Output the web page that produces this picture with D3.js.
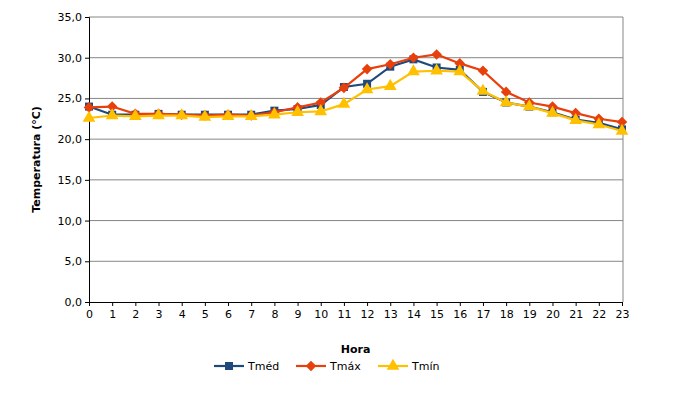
<!DOCTYPE html>
<html><head><meta charset="utf-8">
<script src="https://cdn.jsdelivr.net/npm/d3@7"></script>
<style>body{margin:0;background:#fff}text{font-family:"DejaVu Sans",Verdana,sans-serif}</style>
</head><body>
<script>
const data = {
  "Tméd": [24.0,23.0,23.0,23.1,23.0,23.0,23.0,23.0,23.5,23.7,24.2,26.4,26.8,28.9,29.8,28.8,28.5,25.8,24.5,24.0,23.3,22.4,22.0,21.2],
  "Tmáx": [23.9,24.0,23.1,23.1,23.0,22.9,23.0,22.9,23.3,23.9,24.5,26.3,28.6,29.2,30.0,30.4,29.3,28.4,25.8,24.5,24.0,23.2,22.5,22.1],
  "Tmín": [22.6,22.9,22.8,22.9,22.9,22.7,22.8,22.8,23.0,23.3,23.4,24.3,26.1,26.5,28.3,28.4,28.3,25.9,24.5,24.0,23.2,22.3,21.8,21.0]
};
const series = [
  {name:"Tméd", color:"#1f497d", shape:d3.symbolSquare, size:64, rot:0},
  {name:"Tmáx", color:"#e8400c", shape:d3.symbolSquare, size:56, rot:45},
  {name:"Tmín", color:"#ffc000", shape:d3.symbolTriangle, size:70, rot:0}
];
const L=89, R=623, T=17, B=302;
const svg = d3.select('body').append('svg').attr('width',689).attr('height',403);
const x = d3.scaleLinear().domain([0,23]).range([L,622]);
const y = d3.scaleLinear().domain([0,35]).range([B,T]);

svg.append('g').selectAll('line').data(d3.range(5,36,5)).join('line')
  .attr('x1',L).attr('x2',R).attr('y1',d=>y(d)).attr('y2',d=>y(d))
  .attr('stroke','#868686');
svg.append('line').attr('x1',R).attr('x2',R).attr('y1',T).attr('y2',B).attr('stroke','#868686');

const ya = svg.append('g').attr('transform',`translate(${L},0)`)
  .call(d3.axisLeft(y).tickValues(d3.range(0,36,5)).tickSize(4).tickFormat(d=>d3.format('.1f')(d).replace('.',',')));
const xa = svg.append('g').attr('transform',`translate(0,${B})`)
  .call(d3.axisBottom(x).tickValues(d3.range(0,24)).tickSize(4).tickFormat(d=>d));
[ya,xa].forEach(a=>{a.select('.domain').attr('stroke','#000');a.selectAll('line').attr('stroke','#000');a.selectAll('text').attr('font-size',11).attr('fill','#000').style('font-family','DejaVu Sans');});
ya.selectAll('text').attr('x',-7);
xa.selectAll('text').attr('y',8);

svg.append('text').attr('x',x(11.5)).attr('y',353).attr('text-anchor','middle')
  .attr('font-size',11).attr('font-weight','bold').text('Hora');
svg.append('text').attr('transform',`translate(40,${(T+B)/2}) rotate(-90)`).attr('text-anchor','middle')
  .attr('font-size',11).attr('font-weight','bold').text('Temperatura (°C)');

const line = d3.line().x((d,i)=>x(i)).y(d=>y(d));
series.forEach(s=>{
  svg.append('path').datum(data[s.name]).attr('d',line).attr('fill','none').attr('stroke',s.color).attr('stroke-width',2.2);
  svg.append('g').selectAll('path').data(data[s.name]).join('path')
    .attr('d',d3.symbol(s.shape,s.size)).attr('fill',s.color)
    .attr('transform',(d,i)=>`translate(${x(i)},${y(d)}) rotate(${s.rot})`);
});

const lg = svg.append('g').attr('transform','translate(214,366)');
series.forEach((s,i)=>{
  const g = lg.append('g').attr('transform',`translate(${i*82},0)`);
  g.append('line').attr('x1',0).attr('x2',30).attr('stroke',s.color).attr('stroke-width',2.2);
  g.append('path').attr('d',d3.symbol(s.shape,s.size)).attr('fill',s.color).attr('transform',`translate(15,0) rotate(${s.rot})`);
  g.append('text').attr('x',34).attr('y',4).attr('font-size',11).text(s.name);
});
</script>
</body></html>
